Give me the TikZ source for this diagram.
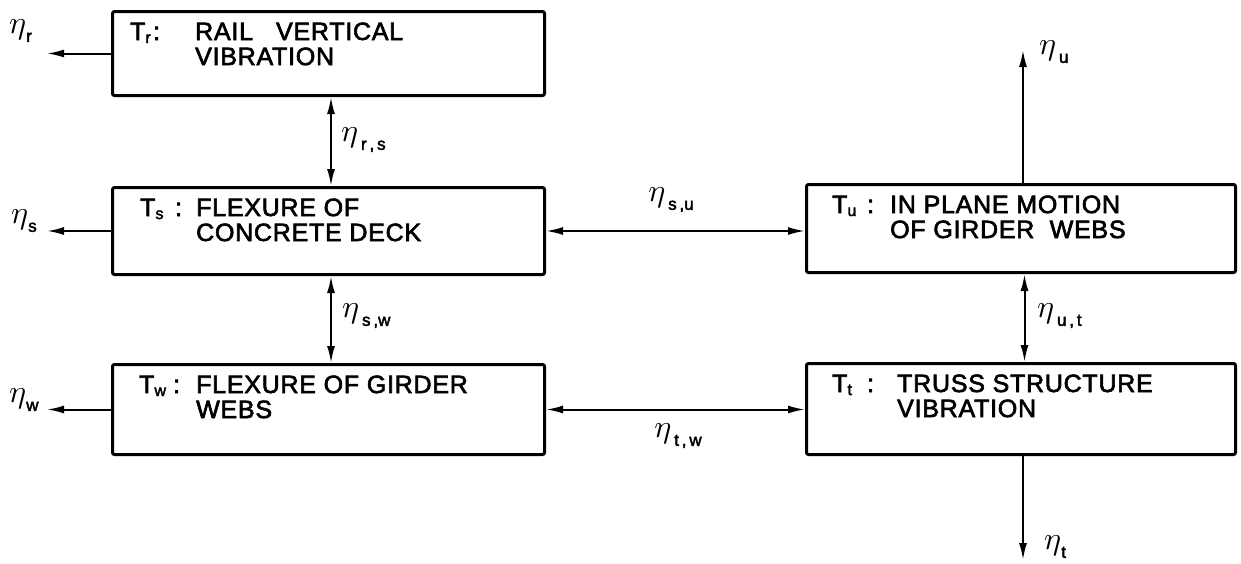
\documentclass[tikz,border=0pt]{standalone}
\usepackage{graphicx}
\usepackage{fontspec}
\setmainfont{Liberation Sans}
\newfontfamily\lett[LetterSpace=3,FakeBold=2.5]{Liberation Sans}
\newfontfamily\subf[FakeBold=2.5]{Liberation Sans}
\usetikzlibrary{arrows.meta}
\newcommand\Tsub[1]{T\raisebox{-3pt}{\fontsize{16}{16}\subf #1}}
\newcommand\etal[1]{\scalebox{3.2}{$\eta$}\raisebox{-8pt}{\fontsize{17}{17}\subf #1}}
\newcommand\boxtext[8]{%
  \node[txt] (#1T) at (#3,#2+30) {\Tsub{#4}};
  \node[txt] (#1c) at (#5,#2+30) {:};
  \node[txt] (#1a) at (#6,#2+30) {#7};
  \node[txt] (#1b) at (#6,#2+55) {#8};
}
\begin{document}
\begin{tikzpicture}[x=1pt,y=-1pt,
  blk/.style={draw, line width=3pt, rounded corners=2pt, inner sep=0pt, anchor=north west},
  txt/.style={inner sep=0pt, anchor=base west, font=\fontsize{25}{25}\lett},
  lab/.style={inner sep=0pt, anchor=west},
  conn/.style={line width=2pt},
  tip/.tip={Latex[length=17pt,width=8pt]}
]
\path[use as bounding box, fill=white] (0,0) rectangle (1241,563);

% boxes
\node[blk, minimum width=432pt, minimum height=84pt] (r) at (111,10) {};
\node[blk, minimum width=432pt, minimum height=87pt] (s) at (111,186) {};
\node[blk, minimum width=432pt, minimum height=90pt] (w) at (111,363) {};
\node[blk, minimum width=429pt, minimum height=88pt] (u) at (805,183) {};
\node[blk, minimum width=429pt, minimum height=91pt] (t) at (805,362) {};

% box texts
\boxtext{rt}{10}{130}{r}{153}{195}{RAIL\ \ \ VERTICAL}{VIBRATION}
\boxtext{st}{186}{140}{s}{175}{196}{FLEXURE OF}{CONCRETE DECK}
\boxtext{wt}{363}{139}{w}{173}{196}{FLEXURE OF GIRDER}{WEBS}
\boxtext{ut}{183}{832}{u}{867}{890}{IN PLANE MOTION}{OF GIRDER\ \ WEBS}
\boxtext{tt}{362}{832}{t}{867}{897}{TRUSS STRUCTURE}{VIBRATION}

% free ends
\coordinate (ro) at ([xshift=-64pt]r.west);
\coordinate (so) at ([xshift=-64pt]s.west);
\coordinate (wo) at ([xshift=-64pt]w.west);
\coordinate (uo) at (1023,50);
\coordinate (tout) at (1023,560);

% connectors
\draw[conn,-{tip}] (r.west) -- (ro);
\draw[conn,-{tip}] (s.west) -- (so);
\draw[conn,-{tip}] (w.west) -- (wo);
\draw[conn,{tip}-{tip}] ([xshift=2.5pt]r.south) -- ([xshift=2.5pt]s.north);
\draw[conn,{tip}-{tip}] ([xshift=2.5pt]s.south) -- ([xshift=2.5pt]w.north);
\draw[conn,{tip}-{tip}] (s.east) -- (s.east -| u.west);
\draw[conn,{tip}-{tip}] (w.east) -- (w.east -| t.west);
\draw[conn,{tip}-{tip}] ([xshift=3.5pt]u.south) -- ([xshift=3.5pt]t.north);
\draw[conn,-{tip}] (uo |- u.north) -- (uo);
\draw[conn,-{tip}] (tout |- t.south) -- (tout);

% labels
\node[lab] (lr) at (9,31) {\etal{r}};
\node[lab] (ls) at (11,221) {\etal{s}};
\node[lab] (lw) at (9,400) {\etal{w}};
\node[lab] (lrs) at (341,140) {\etal{\,r\,,\,s}};
\node[lab] (lsw) at (342,316) {\etal{\,s\,,w}};
\node[lab,anchor=center] (lsu) at (671,200) {\etal{\,s\,,u}};
\node[lab,anchor=center] (ltw) at (678,436) {\etal{\,t\,,\,w}};
\node[lab] (lut) at (1037,316) {\etal{\,u\,,\,t}};
\node[lab] (lu) at (1039,52) {\etal{\,u}};
\node[lab] (lt) at (1044,547) {\etal{t}};
\end{tikzpicture}
\end{document}
